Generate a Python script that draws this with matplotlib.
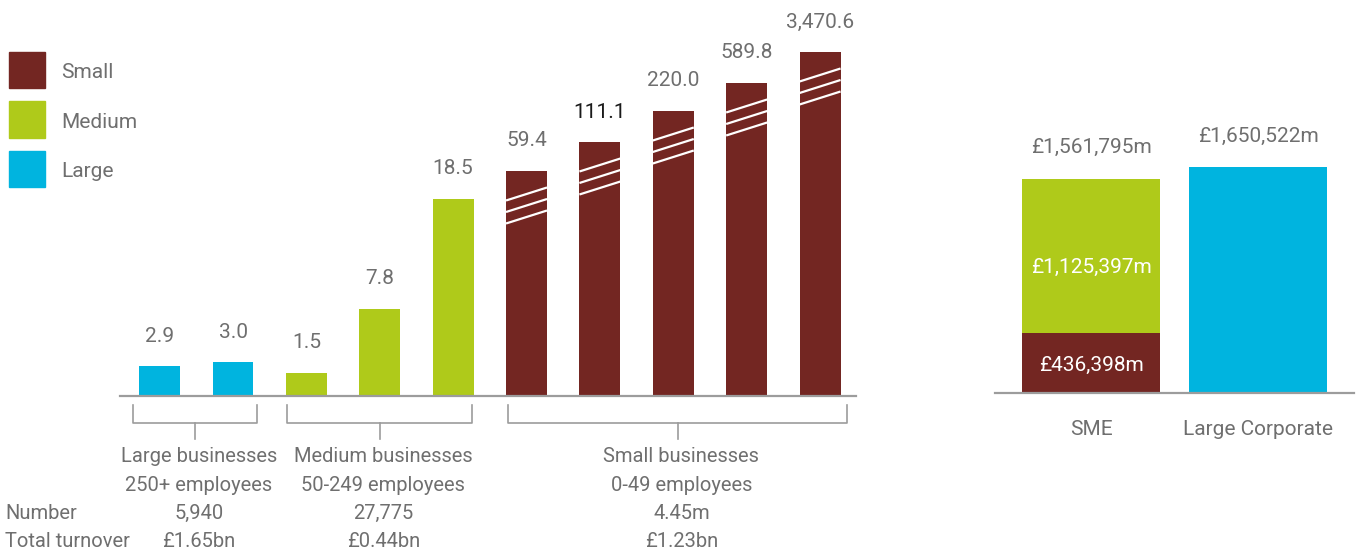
import matplotlib.pyplot as plt
from matplotlib.patches import Rectangle
import numpy as np

plt.rcParams['font.family'] = ['Roboto', 'DejaVu Sans']

W, H = 1357, 556
GREY = '#6f6f6f'
LINE = '#9c9c9c'
colors = {'Small': '#732622', 'Medium': '#afca1a', 'Large': '#00b4df'}

# left panel: bars per size band (small ones are drawn on a broken scale)
bar_labels = ['2.9', '3.0', '1.5', '7.8', '18.5', '59.4', '111.1', '220.0', '589.8', '3,470.6']
bar_size = ['Large', 'Large', 'Medium', 'Medium', 'Medium',
            'Small', 'Small', 'Small', 'Small', 'Small']
bar_shown = [30, 34, 23, 87, 197, 225, 254, 285, 313, 344]   # drawn height
bar_broken = [False, False, False, False, False, True, True, True, True, True]

# groups under the axis
group_first = [0, 2, 5]
group_last = [1, 4, 9]
group_title = ['Large businesses', 'Medium businesses', 'Small businesses']
group_band = ['250+ employees', '50-249 employees', '0-49 employees']
group_number = ['5,940', '27,775', '4.45m']
group_turnover = ['£1.65bn', '£0.44bn', '£1.23bn']

# right panel: turnover, £m
right_cats = ['SME', 'Large Corporate']
sme_small = 436398
sme_medium = 1125397
large_corp = 1650522


def pt(pixels):
    return pixels * 72 / 100


fig = plt.figure(figsize=(W / 100, H / 100), dpi=100)

# ---- left panel ----
ax = fig.add_axes([120 / W, (H - 395.5) / H, (856 - 120) / W, 365.5 / H])
x = np.arange(len(bar_shown))
bw = 41 / 73.4
ax.bar(x, bar_shown, width=bw, color=[colors[s] for s in bar_size], zorder=2)
ax.set_xlim(-0.54, 9.49)
ax.set_ylim(0, 365.5)

for i in range(len(x)):
    c = '#1a1a1a' if bar_labels[i] == '111.1' else GREY
    ax.annotate(bar_labels[i], (x[i], bar_shown[i]), xytext=(0, pt(24)),
                textcoords='offset points', ha='center', va='baseline',
                fontsize=15, color=c)
    if bar_broken[i]:
        # three slanted white lines marking the cut
        mid = bar_shown[i] - 35
        for k in (-11.5, 0, 11.5):
            ax.plot([x[i] - bw / 2, x[i] + bw / 2], [mid + k - 6.5, mid + k + 6.5],
                    color='white', lw=1.6, zorder=3, solid_capstyle='butt')

for s in ['top', 'left', 'right']:
    ax.spines[s].set_visible(False)
ax.spines['bottom'].set_color(LINE)
ax.spines['bottom'].set_linewidth(1.6)
ax.set_xticks([])
ax.set_yticks([])

# bracket padding either side of each group (in bar slots)
pad_left = [0.36, 0.26, 0.25]
pad_right = [0.33, 0.26, 0.37]
for g in range(3):
    a = group_first[g] - pad_left[g]
    b = group_last[g] + pad_right[g]
    m = (a + b) / 2
    ax.plot([a, a, b, b], [-9.5, -27, -27, -9.5], color=LINE, lw=1.2, clip_on=False)
    ax.plot([m, m], [-27, -43.5], color=LINE, lw=1.2, clip_on=False)
    for txt, yy in zip([group_title[g], group_band[g], group_number[g], group_turnover[g]],
                       [-66, -95.5, -123.5, -151.5]):
        ax.text(m + 0.05, yy, txt, ha='center', va='baseline', fontsize=14.5, color=GREY)

fig.text(5 / W, (H - 519) / H, 'Number', ha='left', va='baseline', fontsize=14.5, color=GREY)
fig.text(5 / W, (H - 547) / H, 'Total turnover', ha='left', va='baseline', fontsize=14.5, color=GREY)

# legend
for k, name in enumerate(['Small', 'Medium', 'Large']):
    top = 52 + k * 49.5
    fig.add_artist(Rectangle((9 / W, (H - top - 36) / H), 36 / W, 36 / H,
                             transform=fig.transFigure, color=colors[name]))
    fig.text(61 / W, (H - top - 26) / H, name, ha='left', va='baseline',
             fontsize=15, color=GREY)

# ---- right panel ----
ax2 = fig.add_axes([995 / W, (H - 393) / H, (1354 - 995) / W, 363 / H])
rx = np.arange(len(right_cats))
rw = 138 / 167
ax2.bar(rx[0], sme_small, width=rw, color=colors['Small'])
ax2.bar(rx[0], sme_medium, bottom=sme_small, width=rw, color=colors['Medium'])
ax2.bar(rx[1], large_corp, width=rw, color=colors['Large'])
ax2.set_xlim(-0.575, 1.575)
ax2.set_ylim(0, 363 * 7300)

sme_total = sme_small + sme_medium
ax2.annotate(f'£{sme_total:,}m', (rx[0], sme_total), xytext=(0, pt(26.5)),
             textcoords='offset points', ha='center', va='baseline', fontsize=15, color=GREY)
ax2.annotate(f'£{large_corp:,}m', (rx[1], large_corp), xytext=(0, pt(25.5)),
             textcoords='offset points', ha='center', va='baseline', fontsize=15, color=GREY)
ax2.annotate(f'£{sme_medium:,}m', (rx[0], sme_small + sme_medium / 2), xytext=(0, -pt(16.5)),
             textcoords='offset points', ha='center', va='baseline', fontsize=15, color='white')
ax2.annotate(f'£{sme_small:,}m', (rx[0], sme_small / 2), xytext=(0, -pt(8)),
             textcoords='offset points', ha='center', va='baseline', fontsize=15, color='white')

for i, name in enumerate(right_cats):
    ax2.annotate(name, (rx[i], 0), xytext=(0, -pt(42)), textcoords='offset points',
                 ha='center', va='baseline', fontsize=15, color=GREY)

for s in ['top', 'left', 'right']:
    ax2.spines[s].set_visible(False)
ax2.spines['bottom'].set_color(LINE)
ax2.spines['bottom'].set_linewidth(1.6)
ax2.set_xticks([])
ax2.set_yticks([])

fig.savefig('out.png', dpi=100)
